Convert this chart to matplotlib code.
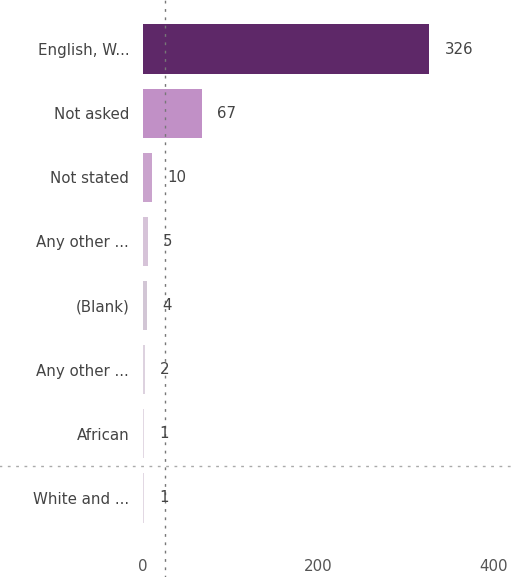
import matplotlib
matplotlib.use("Agg")
import matplotlib.pyplot as plt

categories = ["English, W...", "Not asked", "Not stated", "Any other ...",
              "(Blank)", "Any other ...", "African", "White and ..."]
values = [326, 67, 10, 5, 4, 2, 1, 1]
bar_colors = ["#5e2868", "#c190c6", "#caa3cd", "#d6c3d8",
              "#d2c6d5", "#ddd2df", "#e2d8e3", "#e2d8e3"]
xticks = [0, 200, 400]
ref_x = 25          # vertical dotted reference line (data units)
ref_y = 6.5         # horizontal dotted separator between rows

plt.rcParams['font.family'] = ['DejaVu Sans']

fig = plt.figure(figsize=(5.13, 5.77), dpi=100)
ax = fig.add_axes([0.279, 0.0815, 0.684, 0.889])

ypos = list(range(len(categories)))
ax.barh(ypos, values, height=0.77, color=bar_colors, zorder=2)
ax.set_ylim(len(categories) - 0.5, -0.5)
ax.set_xlim(0, 400)
ax.set_yticks(ypos)
ax.set_yticklabels(categories, fontsize=10.8, color="#444444")
ax.set_xticks(xticks)
ax.set_xticklabels([str(t) for t in xticks], fontsize=10.8, color="#555555")
ax.tick_params(axis="y", length=0, pad=10)
ax.tick_params(axis="x", length=0, pad=21)
for s in ax.spines.values():
    s.set_visible(False)

for y, v in zip(ypos, values):
    ax.annotate(str(v), xy=(v, y), xytext=(11, 0), textcoords="offset points",
                va="center", ha="left", fontsize=10.8, color="#444444", zorder=4)

ax.axvline(ref_x, ymin=-0.1, ymax=1.05, color="#777777", linestyle=(0, (2, 4)),
           linewidth=1.0, clip_on=False, zorder=3)
ax.axhline(ref_y, xmin=-0.42, xmax=1.06, color="#aaaaaa", linestyle=(0, (2, 4)),
           linewidth=1.0, clip_on=False, zorder=3)

fig.savefig("out.png", dpi=100)
